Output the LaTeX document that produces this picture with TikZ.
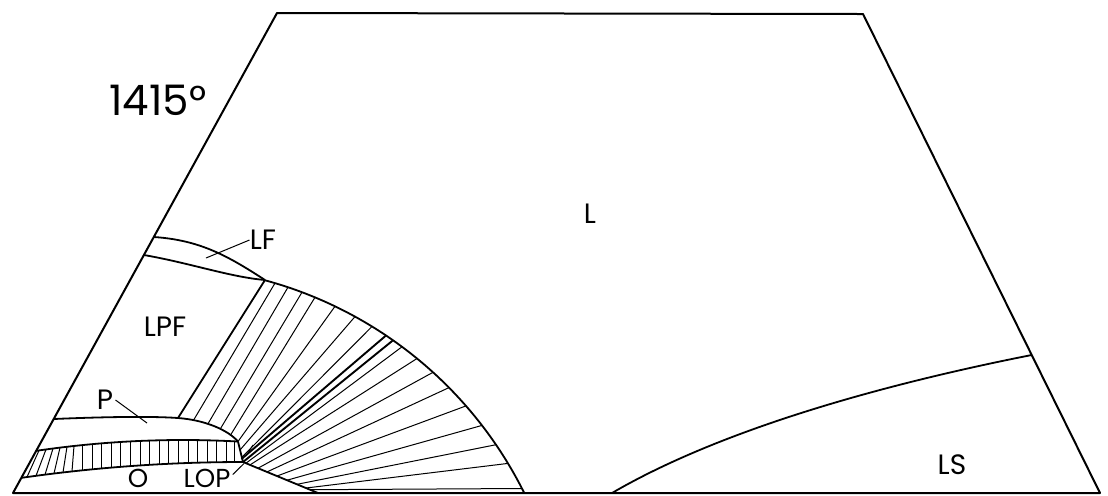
\documentclass[tikz,border=0pt]{standalone}
\usepackage{fontspec}
\setmainfont{Poppins}
\begin{document}
\begin{tikzpicture}[x=0.5pt,y=-0.5pt,
  outline/.style={line width=1pt,line join=round},
  bound/.style={line width=0.9pt,line join=round},
  tie/.style={line width=0.5pt},
  thicktie/.style={line width=0.95pt},
  lab/.style={font=\fontsize{14}{16}\selectfont,inner sep=0pt},
  smlab/.style={font=\fontsize{13}{15}\selectfont,inner sep=0pt},
  biglab/.style={font=\fontsize{21}{24}\selectfont,inner sep=0pt}]
\useasboundingbox (0,0) rectangle (1108,495);

% outline of the section
\coordinate (BL) at (13,493);
\coordinate (TL) at (277,13);
\coordinate (TR) at (863,14);
\coordinate (BR) at (1100,493);
\draw[outline] (BL) -- (TL) -- (TR) -- (BR) -- cycle;

% LS boundary
\coordinate (lsA) at (612,493);
\coordinate (lsB) at (1031.6,355);
\draw[bound] (lsA) .. controls (720,430) and (880,385) .. (lsB);

% LF region
\coordinate (lfU) at (153.8,237);
\coordinate (lfL) at (143.9,255);
\coordinate (lfN) at (265,280);
\draw[bound] (lfU) .. controls (200,240) and (228,256) .. (lfN);
\draw[bound] (lfL) .. controls (190,263) and (230,277) .. (lfN);

% LPF / fan boundary
\coordinate (pN) at (178,418);
\draw[bound] (pN) -- (lfN);
\draw[bound] plot[domain=-74.85:-26.44,samples=90] ({158+409*cos(\x)},{675+409*sin(\x)});

% P region top
\coordinate (pL) at (53.7,419);
\coordinate (pR) at (238,441.5);
\draw[bound] (pL) .. controls (100,417) and (150,416) .. (pN) .. controls (205,420) and (228,430) .. (pR);

% hatched band (O)
\draw[bound] plot[domain=36.1:238,samples=60] (\x,{440+(0.02241*(\x-183))^2});
\draw[bound] plot[domain=21.25:243,samples=60] (\x,{462+(0.017944*(243-\x))^2});
\coordinate (lop) at (243,462);
\draw[bound] (pR) -- (lop);
\foreach \xb/\s in {27/12,36/10,45/8,54/6,63/4,72/2,82/0,92/0,101/0,111/0,120/0,130/0,140/0,149/0,159/0,168/0,178/0,188/0,197/0,207/0,216/0,226/0,234/0}{
  \pgfmathsetmacro\xt{\xb+\s}
  \pgfmathsetmacro\yb{462+(0.017944*(243-\xb))^2}
  \pgfmathsetmacro\yt{440+(0.02241*(\xt-183))^2}
  \draw[tie] (\xb,\yb) -- (\xt,\yt);
}

% lower boundary of the fan
\coordinate (lowE) at (318,493);
\draw[bound] (lop) -- (lowE);

% tie lines of the fan
\foreach \ax/\ay/\bx/\by in {
  193.6/420.1/275/283.1,
  207.9/423.9/288/287.2,
  220.3/428.9/302/292.2,
  230.5/435.1/315/297.3,
  238/441.5/335/306.3,
  240/450/355/316.6,
  242/457/372/326.5,
  246/463.2/402/346.8,
  250/464.9/417/358.5,
  258/468.2/433/372.3,
  267/471.9/449/387.6,
  277/476.0/466/405.9,
  287/480.2/482/425.4,
  297/484.3/496/444.7,
  306/488.0/508/463.4,
  310/489.7/522/488.5}{
  \draw[tie] (\ax,\ay) -- (\bx,\by);
}
\draw[thicktie] (241.5,459) -- (386,335.5);
\draw[thicktie] (lop) -- (393,340.3);
\draw[tie] (246,456) -- (253,445);

% labels
\node[biglab] (t1415) at (158,100) {1415°};
\node[lab] (tL) at (590,214) {L};
\node[lab] (tLF) at (263,240) {LF};
\node[lab] (tLPF) at (165,327) {LPF};
\node[lab] (tP) at (105,400) {P};
\node[smlab] (tO) at (138,478.5) {O};
\node[smlab] (tLOP) at (207,478.5) {LOP};
\node[lab] (tLS) at (952,465) {LS};

% leaders
\coordinate (lfLead) at (206,258);
\draw[tie] (tLF.west) -- (lfLead);
\coordinate (pLead) at (147,423);
\draw[tie] ([xshift=1pt]tP.east) -- (pLead);
\draw[tie] ([xshift=1pt,yshift=2pt]tLOP.east) -- (244,463.5);
\end{tikzpicture}
\end{document}
